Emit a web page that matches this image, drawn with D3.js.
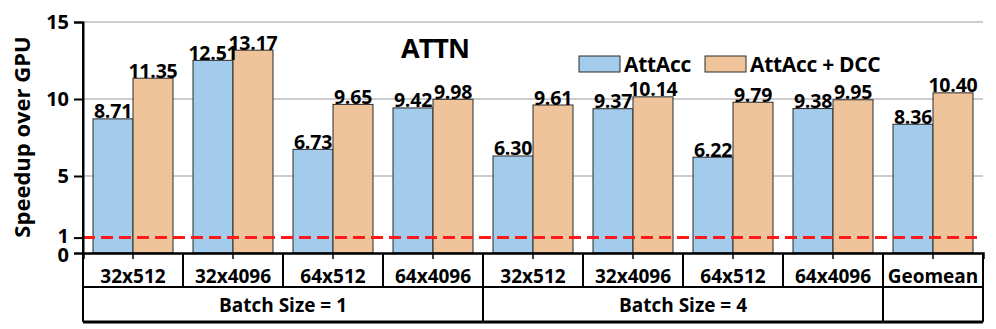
<!DOCTYPE html>
<html>
<head>
<meta charset="utf-8">
<script src="https://cdn.jsdelivr.net/npm/d3@7"></script>
<style>
  body { margin: 0; background: #fff; }
  text { font-family: "Open Sans", sans-serif; font-weight: bold; fill: #000; }
</style>
</head>
<body>
<div id="chart"><svg width="996" height="329"></svg></div>
<script>
// Data
const configs = ["32x512", "32x4096", "64x512", "64x4096", "32x512", "32x4096", "64x512", "64x4096", "Geomean"];
const seriesNames = ["AttAcc", "AttAcc + DCC"];
const attacc = [8.71, 12.51, 6.73, 9.42, 6.30, 9.37, 6.22, 9.38, 8.36];
const attaccDcc = [11.35, 13.17, 9.65, 9.98, 9.61, 10.14, 9.79, 9.95, 10.40];
const batchLabels = ["Batch Size = 1", "Batch Size = 4", ""];
const batchSpans = [4, 4, 1];
const yTicks = [0, 1, 5, 10, 15];
const gridTicks = [5, 10, 15];
const baseline = 1;

// Global variables
let svg = d3.select("div#chart svg"),
  margin = { top: 22, right: 13, bottom: 76, left: 83 },
  width = svg.attr("width") - margin.left - margin.right,
  height = svg.attr("height") - margin.top - margin.bottom,
  g = svg.append("g").attr("transform", "translate(" + margin.left + "," + margin.top + ")");

let colors = {
  "AttAcc": "#a3cbeb",
  "AttAcc + DCC": "#f0c49b",
  "grid": "#bdbdbd",
  "edge": "#2a2a2a",
  "baseline": "#ff1a1a"
};

let rows = { first: 34, second: 35 };

// Scales
let x = d3.scaleBand()
  .domain(d3.range(configs.length))
  .range([0, width]);
let xSub = d3.scaleBand()
  .domain(seriesNames)
  .range([0, x.bandwidth()])
  .paddingOuter(0.25);
let y = d3.scaleLinear()
  .domain([0, 15])
  .range([height, 0]);

// Grid lines
g.append("g")
  .attr("class", "grid")
  .selectAll("line")
  .data(gridTicks)
  .enter()
  .append("line")
  .attr("x1", 0)
  .attr("x2", width)
  .attr("y1", d => y(d))
  .attr("y2", d => y(d))
  .attr("stroke", colors.grid)
  .attr("stroke-width", 1.5);

// Bars
let groups = g.append("g")
  .attr("class", "bars")
  .selectAll("g")
  .data(configs.map((c, i) => ({ i: i, values: [attacc[i], attaccDcc[i]] })))
  .enter()
  .append("g")
  .attr("transform", d => "translate(" + x(d.i) + ",0)");

groups.selectAll("rect")
  .data(d => d.values.map((v, k) => ({ key: seriesNames[k], value: v })))
  .enter()
  .append("rect")
  .attr("x", d => xSub(d.key))
  .attr("y", d => y(d.value))
  .attr("width", xSub.bandwidth())
  .attr("height", d => height - y(d.value))
  .attr("fill", d => colors[d.key])
  .attr("stroke", colors.edge)
  .attr("stroke-width", 1);

groups.selectAll("text")
  .data(d => d.values.map((v, k) => ({ key: seriesNames[k], value: v })))
  .enter()
  .append("text")
  .attr("x", d => xSub(d.key) + xSub.bandwidth() / 2)
  .attr("y", d => y(d.value) - 0.5)
  .attr("text-anchor", "middle")
  .style("font-size", "19.5px")
  .style("letter-spacing", "-0.2px")
  .text(d => d.value.toFixed(2));

// Baseline (speedup = 1)
g.append("line")
  .attr("class", "baseline")
  .attr("x1", 0)
  .attr("x2", width)
  .attr("y1", y(baseline))
  .attr("y2", y(baseline))
  .attr("stroke", colors.baseline)
  .attr("stroke-width", 3)
  .attr("stroke-dasharray", "12,6");

// Y axis
let yAxis = g.append("g")
  .attr("class", "axis axis_y")
  .call(d3.axisLeft(y).tickValues(yTicks).tickSize(9).tickPadding(5));
yAxis.selectAll("path, line").attr("stroke", "#000").attr("stroke-width", 2);
yAxis.selectAll("text")
  .style("font-size", "20px")
  .style("font-family", "Open Sans")
  .style("font-weight", "bold");
// the 0 and 1 labels sit very close, as in the figure
yAxis.selectAll(".tick text").attr("dy", d => d === 0 ? "0.42em" : d === 1 ? "0.26em" : "0.32em");

g.append("text")
  .attr("transform", "rotate(-90)")
  .attr("x", -115)
  .attr("y", -53)
  .attr("text-anchor", "middle")
  .style("font-size", "22px")
  .text("Speedup over GPU");

// X axis (config row of table)
let xAxis = g.append("g")
  .attr("class", "axis axis_x")
  .attr("transform", "translate(0," + height + ")")
  .call(d3.axisBottom(x).tickFormat(i => configs[i]).tickSize(6).tickPadding(10.5));
xAxis.select("path").attr("stroke", "#000").attr("stroke-width", 2.5);
xAxis.selectAll("line").attr("stroke", "#000").attr("stroke-width", 1.5);
xAxis.selectAll("text")
  .style("font-size", "19px")
  .style("font-family", "Open Sans")
  .style("font-weight", "bold");

// Table under the axis
let table = g.append("g")
  .attr("class", "table")
  .attr("transform", "translate(0," + height + ")");

table.append("line")
  .attr("x1", 0).attr("x2", width)
  .attr("y1", rows.first).attr("y2", rows.first)
  .attr("stroke", "#000").attr("stroke-width", 2);
table.append("line")
  .attr("x1", 0).attr("x2", width)
  .attr("y1", rows.first + rows.second).attr("y2", rows.first + rows.second)
  .attr("stroke", "#000").attr("stroke-width", 3);

// Config dividers
table.selectAll("line.cell")
  .data(d3.range(configs.length + 1))
  .enter()
  .append("line")
  .attr("class", "cell")
  .attr("x1", i => i < configs.length ? x(i) : width)
  .attr("x2", i => i < configs.length ? x(i) : width)
  .attr("y1", 0)
  .attr("y2", rows.first)
  .attr("stroke", "#000")
  .attr("stroke-width", 2);

// Batch-size cells
let starts = batchSpans.map((s, i) => d3.sum(batchSpans.slice(0, i)));
let edges = starts.concat([configs.length]);
table.selectAll("line.batch")
  .data(edges)
  .enter()
  .append("line")
  .attr("class", "batch")
  .attr("x1", i => i < configs.length ? x(i) : width)
  .attr("x2", i => i < configs.length ? x(i) : width)
  .attr("y1", rows.first)
  .attr("y2", rows.first + rows.second)
  .attr("stroke", "#000")
  .attr("stroke-width", 2);

table.selectAll("text.batch")
  .data(batchLabels)
  .enter()
  .append("text")
  .attr("class", "batch")
  .attr("x", (d, i) => x(starts[i]) + batchSpans[i] * x.bandwidth() / 2)
  .attr("y", rows.first + 25)
  .attr("text-anchor", "middle")
  .style("font-size", "19px")
  .text(d => d);

// Left border through the table
g.append("line")
  .attr("x1", 0).attr("x2", 0)
  .attr("y1", 0).attr("y2", height + rows.first + rows.second)
  .attr("stroke", "#000")
  .attr("stroke-width", 2);

// Title
g.append("text")
  .attr("class", "title")
  .attr("x", 352)
  .attr("y", 36)
  .attr("text-anchor", "middle")
  .style("font-size", "27px")
  .style("letter-spacing", "-1px")
  .text("ATTN");

// Legend
let legend = g.append("g")
  .attr("class", "legend")
  .attr("transform", "translate(496,34)");
let legendX = [0, 126];
seriesNames.forEach((name, i) => {
  legend.append("rect")
    .attr("x", legendX[i])
    .attr("y", 0)
    .attr("width", 41)
    .attr("height", 16)
    .attr("fill", colors[name])
    .attr("stroke", colors.edge)
    .attr("stroke-width", 1);
  legend.append("text")
    .attr("x", legendX[i] + 45)
    .attr("y", 16)
    .style("font-size", "21px")
    .style("letter-spacing", "-0.3px")
    .text(name);
});
</script>
</body>
</html>
